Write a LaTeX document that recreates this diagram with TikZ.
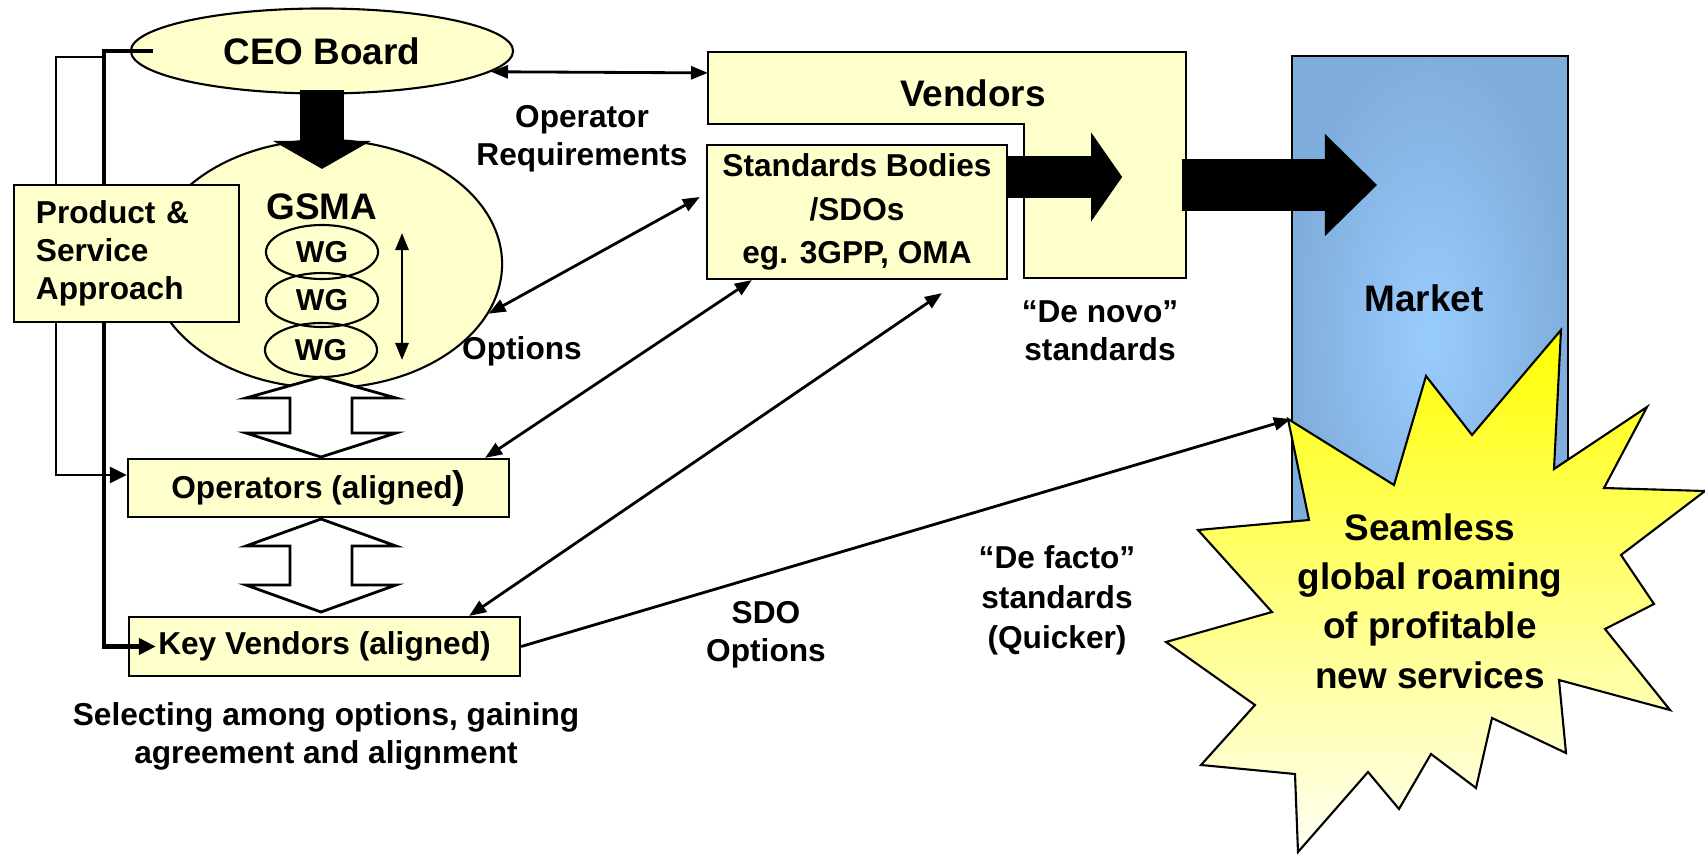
\documentclass[tikz,border=0pt]{standalone}
\usepackage{fontspec}
\setmainfont{Liberation Sans}
\usetikzlibrary{arrows.meta, calc, shapes.geometric}
\definecolor{paleyellow}{RGB}{255,255,204}
\definecolor{mktedge}{RGB}{128,174,220}
\definecolor{mktmid}{RGB}{153,204,255}
\definecolor{burst}{RGB}{255,255,0}
\definecolor{burstmid}{RGB}{255,255,170}
\definecolor{burstlight}{RGB}{255,255,245}

\begin{document}
\begin{tikzpicture}[
    x=0.01cm, y=-0.01cm,
    bigtext/.style={font=\bfseries\fontsize{10.5}{12.6}\selectfont},
    midtext/.style={font=\bfseries\fontsize{9}{10.8}\selectfont, align=center},
    oval/.style={ellipse, draw, fill=paleyellow, line width=0.6pt, inner sep=0pt},
    wg/.style={ellipse, draw, line width=0.6pt, inner sep=0pt, minimum width=1.12cm, minimum height=0.54cm, font=\bfseries\fontsize{8.6}{10}\selectfont},
    box/.style={rectangle, draw, fill=paleyellow, line width=0.6pt, inner sep=0pt, midtext},
    arrow/.style={-{Triangle[length=1.7mm,width=1.3mm]}, line width=0.8pt},
    dblarrow/.style={{Triangle[length=1.7mm,width=1.3mm]}-{Triangle[length=1.7mm,width=1.3mm]}, line width=0.8pt},
    busline/.style={-{Triangle[length=1.7mm,width=1.6mm]}},
    fatarrow/.style n args={3}{line width=#1, -{Triangle[length=#2, width=#3, line width=0pt]}},
    hollow/.style={draw, fill=white, line width=0.8pt, line join=miter}
]
    \useasboundingbox (0,0) rectangle (1705,854);

    % GSMA side
    \node[oval, minimum width=3.82cm, minimum height=0.85cm, bigtext] (ceo) at (322,51) {CEO Board};
    \node[oval, minimum width=3.52cm, minimum height=2.48cm] (gsma) at (326,264) {};
    \node[bigtext] (gsmalbl) at (322,207) {GSMA};
    \node[wg] (wg1) at (322,252) {WG};
    \node[wg] (wg2) at (322,300) {WG};
    \node[wg] (wg3) at (321,350) {WG};
    \coordinate (wgtop) at (402,233);
    \coordinate (wgbot) at (402,360);
    \draw[dblarrow] (wgtop) -- (wgbot);

    \node[box, minimum width=3.81cm, minimum height=0.58cm] (oper) at (318.5,488) {Operators (aligned{\fontsize{11}{12}\selectfont )}};
    \node[box, minimum width=3.91cm, minimum height=0.59cm] (keyv) at (324.5,646.5) {Key Vendors (aligned)};

    % hollow double arrows
    \coordinate (dbl1) at (321,377);
    \coordinate (dbl2) at (321,519);
    \draw[hollow] (dbl1) -- ++(75,21) -- ++(-44,0) -- ++(0,35) -- ++(44,0) -- ++(-75,24) -- ++(-75,-24) -- ++(44,0) -- ++(0,-35) -- ++(-44,0) -- cycle;
    \draw[hollow] (dbl2) -- ++(75,27) -- ++(-44,0) -- ++(0,39) -- ++(44,0) -- ++(-75,27) -- ++(-75,-27) -- ++(44,0) -- ++(0,-39) -- ++(-44,0) -- cycle;

    % standards and vendors
    \node[box, minimum width=3.0cm, minimum height=1.34cm, font=\bfseries\fontsize{9}{12.4}\selectfont] (std) at (857,212) {Standards Bodies\\/SDOs\\eg. 3GPP, OMA};
    \coordinate (vtl) at (708,52);
    \coordinate (vbl) at (708,124);
    \coordinate (vbr) at (1186,278);
    \draw[fill=paleyellow, line width=0.6pt] (vtl) -| (vbr) -- ++(-162,0) |- (vbl) -- cycle;
    \node[bigtext] (vend) at (973,93) {Vendors};

    % market
    \node[draw, line width=0.6pt, inner color=mktmid, outer color=mktedge, minimum width=2.76cm, minimum height=5.64cm] (mkt) at (1430,338) {};
    \node[bigtext] (mktlbl) at (1424,298) {Market};
    \draw[line width=0.6pt, line join=miter, top color=burst, middle color=burstmid, bottom color=burstlight]
        (1288,419) -- (1394,485) -- (1426,376) -- (1472,435) -- (1561,330) -- (1554,469) -- (1647,407)
        -- (1604,488) -- (1705,491) -- (1621,555) -- (1654,604) -- (1605,629) -- (1670,710) -- (1559,680)
        -- (1566,753) -- (1492,718) -- (1476,788) -- (1431,754) -- (1399,809) -- (1368,772) -- (1298,852)
        -- (1295,774) -- (1201,765) -- (1255,705) -- (1166,642) -- (1272,612) -- (1198,530) -- (1309,520) -- cycle;
    \node[font=\bfseries\fontsize{10.5}{14}\selectfont, align=center] (goal) at (1430,601) {Seamless\\global roaming\\of profitable\\new services};

    % block arrows
    \draw[fatarrow={0.44cm}{0.28cm}{0.98cm}] ([yshift=0.05cm]ceo.south) -- ([yshift=-0.3cm]ceo.south |- gsma.north);
    \draw[fatarrow={0.42cm}{0.31cm}{0.89cm}] ([yshift=0.35cm]std.east) -- ++(114,0);
    \draw[fatarrow={0.51cm}{0.52cm}{1.02cm}] ([shift={(-4,-93)}]vbr) -- ++(195,0);

    % thin connectors
    \draw[dblarrow] (ceo.-7.5) -- ($(vtl)!0.29!(vbl)$);
    \draw[dblarrow] (gsma.-17) -- ([shift={(-6,-15)}]std.west);
    \draw[dblarrow] ([xshift=-0.25cm]oper.north east) -- ([xshift=0.46cm]std.south west);
    \draw[dblarrow] ([xshift=-0.52cm]keyv.north east) -- ([shift={(85,13)}]std.south);
    \draw[arrow] (keyv.east) -- ([yshift=-0.81cm]mkt.west);

    % left bus
    \draw[busline, line width=1.3pt] ([xshift=0.23cm]ceo.west) -- ++(-49,0) |- ([xshift=0.28cm]keyv.west);
    \coordinate (tap) at (105,57);
    \draw[busline, line width=0.7pt] (tap) -- ++(-49,0) |- ([yshift=0.13cm]oper.west);
    \node[box, minimum width=2.25cm, minimum height=1.37cm, text width=1.81cm, align=left] (prod) at (126.5,253.5) {Product \&\\Service\\Approach};

    % labels
    \node[midtext] (oreqlbl) at (582,139) {Operator\\Requirements};
    \node[midtext] (optlbl) at (522,351) {Options};
    \node[midtext] (novolbl) at (1100,331) {“De novo”\\standards};
    \node[midtext, font=\bfseries\fontsize{9}{11.4}\selectfont] (factolbl) at (1057,600) {“De facto”\\standards\\(Quicker)};
    \node[midtext] (sdolbl) at (766,635) {SDO\\Options};
    \node[midtext] (sellbl) at (326,736) {Selecting among options, gaining\\agreement and alignment};
\end{tikzpicture}
\end{document}
